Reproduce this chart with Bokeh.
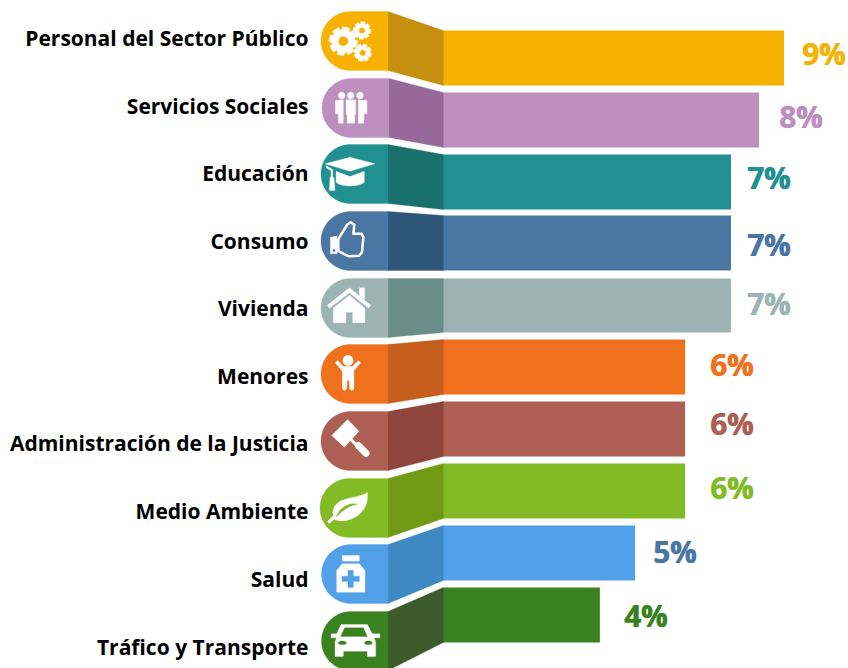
import numpy as np
from bokeh.plotting import figure
from bokeh.models import Range1d
from bokeh.core.properties import value
from bokeh.embed import file_html
from bokeh.resources import INLINE

# ---- data ----
categories = ["Personal del Sector Público", "Servicios Sociales", "Educación", "Consumo", "Vivienda",
              "Menores", "Administración de la Justicia", "Medio Ambiente", "Salud", "Tráfico y Transporte"]
shown_pct = ["9%", "8%", "7%", "7%", "7%", "6%", "6%", "6%", "5%", "4%"]
bar_values = [9.0, 8.34, 7.6, 7.6, 7.6, 6.39, 6.39, 6.39, 5.07, 4.14]

bar_colors = ["#F7B100", "#BC8FBF", "#209090", "#4A76A4", "#9CB3B3", "#EF711D", "#AC5F52", "#83BB27", "#52A0E8", "#3A811F"]
fold_colors = ["#C5900F", "#96699A", "#19706C", "#2D5679", "#6B8D89", "#C55D1C", "#8F443C", "#719B15", "#3E89C1", "#3B5B2B"]
pct_colors = bar_colors[:8] + ["#4A76A4", "#3A811F"]

# ---- layout (page pixels) ----
bar_top = [30, 92, 154, 215, 278, 339, 401, 463, 525, 587]
bar_bot = [85, 147, 209, 270, 332, 394, 456, 518, 580, 642]
pill_top = [11, 78, 144, 211, 278, 344, 411, 478, 544, 611]
pill_bot = [70, 137, 203, 270, 337, 403, 470, 537, 603, 670]
pill_left = [321, 322, 321, 321, 321, 321, 321, 320, 321.5, 321.5]
pill_right = [388, 389, 388, 388, 388, 388, 388, 388, 388, 388]
bar_left_px = 443
px_per_pct = 37.89
label_y = [37.5, 105.5, 172.5, 240.5, 307.5, 375.5, 442.5, 510.5, 578.5, 646.5]
pct_y = [53, 116, 177, 244, 303, 364, 423, 487, 551, 615]
pct_x = [802, 779, 747, 747, 747, 710, 710, 710, 653, 624]

p = figure(width=848, height=668, output_backend="svg", toolbar_location=None,
           x_axis_location=None, y_axis_location=None, min_border=0,
           outline_line_color=None, background_fill_color="white", border_fill_color="white",
           x_range=Range1d((0.5 - bar_left_px) / px_per_pct, (848.5 - bar_left_px) / px_per_pct),
           y_range=Range1d(668, 0))
p.grid.visible = False
p.extra_x_ranges["px"] = Range1d(0.5, 848.5)


def poly(pts, color, **kw):
    a = np.array(pts, dtype=float)
    p.patch(a[:, 0], a[:, 1], x_range_name="px", fill_color=color, line_color=color, line_width=0.3, **kw)


def circle(cx, cy, r, color, n=40):
    t = np.linspace(0, 2 * np.pi, n, endpoint=False)
    poly(np.c_[cx + r * np.cos(t), cy + r * np.sin(t)], color)


def ellipse(cx, cy, rx, ry, color, n=30):
    t = np.linspace(0, 2 * np.pi, n, endpoint=False)
    poly(np.c_[cx + rx * np.cos(t), cy + ry * np.sin(t)], color)


def bez(p0, p1, p2, p3, n=16):
    t = np.linspace(0, 1, n)[:, None]
    p0, p1, p2, p3 = map(np.array, (p0, p1, p2, p3))
    return (1 - t) ** 3 * p0 + 3 * (1 - t) ** 2 * t * p1 + 3 * (1 - t) * t ** 2 * p2 + t ** 3 * p3


def gear(cx, cy, ro, ri, hole, teeth, base, phase=0.0):
    pts = []
    step = 2 * np.pi / teeth
    for i in range(teeth):
        a = phase + i * step
        for da, r in [(-0.30, ri), (-0.19, ro), (0.19, ro), (0.30, ri)]:
            pts.append((cx + r * np.cos(a + da * step * 1.6), cy + r * np.sin(a + da * step * 1.6)))
    poly(pts, "white")
    circle(cx, cy, hole, base)


def Z(ox, oy):
    """Convert coordinates measured on a 3x crop to page pixels."""
    return lambda pts: [(ox + x / 3, oy + y / 3) for x, y in pts]


# bars, through the value scale
p.quad(left=0, right=bar_values, top=bar_top, bottom=bar_bot, fill_color=bar_colors, line_color=None)

# folds and pills
for i in range(len(categories)):
    poly([(pill_right[i], pill_top[i]), (bar_left_px + 0.3, bar_top[i]), (bar_left_px + 0.3, bar_bot[i]),
          (pill_right[i], pill_bot[i])], fold_colors[i])
    r = (pill_bot[i] - pill_top[i]) / 2
    cy = (pill_bot[i] + pill_top[i]) / 2
    cx = pill_left[i] + r
    t = np.linspace(np.pi / 2, 3 * np.pi / 2, 40)
    arc = np.c_[cx + r * np.cos(t), cy + r * np.sin(t)]
    poly(list(map(tuple, arc)) + [(pill_right[i], pill_top[i]), (pill_right[i], pill_bot[i])], bar_colors[i])

W = "white"
# icon 1: gears
gear(343.3, 40.7, 14.6, 11, 4.6, 8, bar_colors[0], 0.2)
gear(362, 30, 9, 6.6, 2.8, 8, bar_colors[0], 0.1)
gear(362.7, 52.3, 9, 6.6, 2.8, 8, bar_colors[0], 0.3)

# icon 2: people
z = Z(310, 0)
for hx in (95, 122, 150):
    circle(310 + hx / 3, 285 / 3, 3.4, W)
poly(z([(76, 300), (100, 298), (100, 368), (85, 368), (85, 340), (76, 340)]), W)
poly(z([(145, 298), (171, 300), (171, 340), (162, 340), (162, 368), (145, 368)]), W)
poly(z([(104, 298), (141, 298), (141, 345), (136, 345), (136, 368), (109, 368), (109, 345), (104, 345)]), bar_colors[1])
poly(z([(108, 298), (137, 298), (137, 342), (134, 342), (134, 368), (111, 368), (111, 342), (108, 342)]), W)

# icon 3: graduation cap
z = Z(310, 0)
poly(z([(78, 512), (120, 528), (163, 512), (163, 545)] + [tuple(q) for q in bez((163, 545), (150, 560), (90, 560), (78, 545))]), W)
poly(z([(45, 490), (120, 470), (195, 490), (120, 512)]), W)
poly(z([(48, 495), (68, 507), (68, 532), (63, 532), (63, 511), (48, 501)]), W)
poly(z([(60, 530), (72, 530), (75, 570), (58, 570)]), W)

# icon 4: thumb
z = Z(310, 210)
hand = z([(85, 85), (112, 42), (122, 35), (133, 43), (130, 70), (155, 70), (160, 80), (156, 125), (147, 136), (115, 137), (85, 122)])
a = np.array(hand)
p.patch(a[:, 0], a[:, 1], x_range_name="px", fill_color=None, line_color=W, line_width=2.5, line_join="round")
poly(z([(61, 80), (81, 76), (81, 130), (61, 130)]), W)
circle(310 + 72 / 3, 210 + 120 / 3, 1.2, bar_colors[3])

# icon 5: house
poly(z([(52, 284), (118, 232), (182, 284), (176, 293), (118, 247), (58, 293)]), W)
poly(z([(148, 232), (164, 232), (164, 268), (148, 256)]), W)
poly(z([(70, 293), (118, 254), (165, 293), (165, 337), (128, 337), (128, 305), (108, 305), (108, 337), (70, 337)]), W)

# icon 6: child
circle(310 + 114 / 3, 210 + 450 / 3, 5.2, W)
poly(z([(76, 457), (83, 450), (100, 468), (128, 468), (145, 450), (152, 457), (132, 480), (132, 535), (126, 541),
        (119, 535), (118, 510), (111, 510), (110, 535), (104, 541), (97, 535), (97, 482)]), W)

# icon 7: gavel
z = Z(310, 400)
poly(z([(113, 57), (147, 92), (103, 140), (65, 105)]), W)
for (a0, b0, w) in [((118, 112), (142, 136), 3), ((145, 135), (168, 158), 7)]:
    q = np.array(z([a0, b0]))
    p.line(q[:, 0], q[:, 1], x_range_name="px", line_color=W, line_width=w, line_cap="round")

# icon 8: leaf
top = bez((172, 276), (140, 298), (75, 285), (68, 335))
bot = bez((75, 358), (115, 372), (180, 340), (172, 276))
poly(z([tuple(q) for q in top] + [tuple(q) for q in bot]), W)
q = np.array(z([(58, 363), (78, 345)]))
p.line(q[:, 0], q[:, 1], x_range_name="px", line_color=W, line_width=3.5, line_cap="round")
vein_a = bez((78, 350), (88, 322), (115, 305), (142, 311))
vein_b = bez((142, 311), (118, 316), (100, 328), (78, 350))
poly(z([tuple(v) for v in vein_a] + [tuple(v) for v in vein_b]), bar_colors[7])

# icon 9: bottle
poly(z([(97, 465), (148, 465), (148, 482), (97, 482)]), W)
poly(z([(97, 490), (148, 490), (165, 510), (165, 575), (80, 575), (80, 510)]), W)
poly(z([(114, 509), (130, 509), (130, 527), (148, 527), (148, 543), (130, 543), (130, 561), (114, 561), (114, 543), (96, 543), (96, 527), (114, 527)]), bar_colors[8])

# icon 10: car
poly(z([(93, 672), (172, 672), (187, 700), (210, 700), (210, 712), (193, 712), (197, 725), (197, 768), (172, 768),
        (172, 752), (100, 752), (100, 768), (75, 768), (75, 725), (79, 712), (63, 712), (63, 700), (80, 700)]), W)
poly(z([(104, 682), (160, 682), (172, 708), (92, 708)]), bar_colors[9])
ellipse(310 + 97 / 3, 400 + 727 / 3, 4, 1.8, bar_colors[9])
ellipse(310 + 175 / 3, 400 + 727 / 3, 4, 1.8, bar_colors[9])

# texts
p.text(x=[308.5] * 10, y=label_y, text=categories, x_range_name="px", text_align="right", text_baseline="middle",
       text_font=value("Open Sans"), text_font_style="bold", text_font_size="21px", text_color="black")
for dx in (0.0, 0.7):
    p.text(x=[v + dx for v in pct_x], y=pct_y, text=shown_pct, x_range_name="px", text_align="left", text_baseline="middle",
           text_font=value("Open Sans"), text_font_style="bold", text_font_size="29.5px", text_color=pct_colors)

open("out.html", "w").write(file_html(p, INLINE))
